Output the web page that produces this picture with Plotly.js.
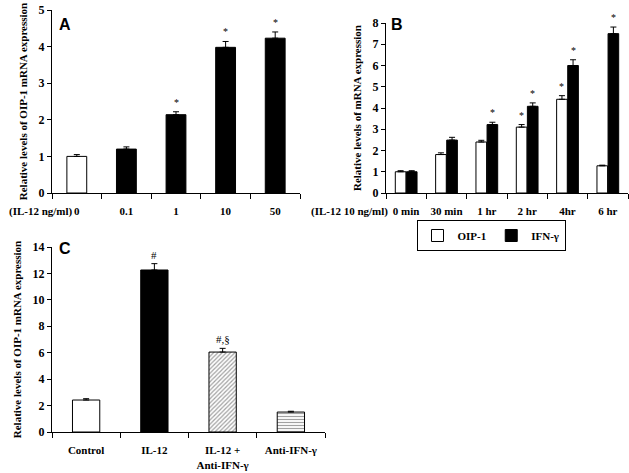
<!DOCTYPE html>
<html>
<head>
<meta charset="utf-8">
<script src="https://cdn.plot.ly/plotly-3.0.1.min.js"></script>
<style>html,body{margin:0;padding:0;background:#fff;}#chart{width:629px;height:473px;}</style>
</head>
<body>
<div id="chart"></div>
<script>
// Panel A data
const aCats = ['0', '0.1', '1', '10', '50'];
const aVals = [1.0, 1.2, 2.14, 3.98, 4.23];
const aErr = [0.05, 0.06, 0.08, 0.16, 0.17];
const aSig = [false, false, true, true, true];

// Panel B data
const bCats = ['0 min', '30 min', '1 hr', '2 hr', '4hr', '6 hr'];
const bOip = [1.0, 1.81, 2.4, 3.1, 4.41, 1.28];
const bOipErr = [0.05, 0.08, 0.08, 0.12, 0.17, 0.03];
const bIfn = [1.0, 2.49, 3.22, 4.08, 6.0, 7.5];
const bIfnErr = [0.05, 0.13, 0.11, 0.16, 0.27, 0.31];
const bOipSig = [false, false, false, true, true, false];
const bIfnSig = [false, false, true, true, true, true];

// Panel C data
const cCats = ['Control', 'IL-12', 'IL-12 +<br>Anti-IFN-γ', 'Anti-IFN-γ'];
const cVals = [2.42, 12.26, 6.05, 1.51];
const cErr = [0.1, 0.48, 0.28, 0.06];
const cMarks = ['', '#', '#,§', ''];

const W = 629, H = 473;
const px = x => x / W;
const py = y => 1 - y / H;
const serif = '"Liberation Serif", "DejaVu Serif", serif';
const sans = '"Liberation Sans", Arial, sans-serif';

function errUp(arr) {
  return {type: 'data', array: arr, arrayminus: arr.map(() => 0), symmetric: false,
          color: 'black', thickness: 1, width: 3};
}

const traces = [
  {type: 'bar', x: aCats, y: aVals, xaxis: 'x', yaxis: 'y', width: 0.4, showlegend: false,
   marker: {color: aCats.map((c, i) => i === 0 ? 'white' : 'black'), line: {color: 'black', width: 1}},
   error_y: errUp(aErr)},
  {type: 'bar', name: 'OIP-1', x: bCats, y: bOip, xaxis: 'x2', yaxis: 'y2',
   marker: {color: 'white', line: {color: 'black', width: 1}}, error_y: errUp(bOipErr)},
  {type: 'bar', name: 'IFN-γ', x: bCats, y: bIfn, xaxis: 'x2', yaxis: 'y2',
   marker: {color: 'black', line: {color: 'black', width: 1}}, error_y: errUp(bIfnErr)},
  {type: 'bar', x: cCats, y: cVals, xaxis: 'x3', yaxis: 'y3', width: 0.4, showlegend: false,
   marker: {color: cCats.map((c, i) => i === 1 ? 'black' : 'white'),
            line: {color: 'black', width: 1},
            pattern: {shape: cCats.map((c, i) => i === 2 ? '/' : (i === 3 ? '-' : '')),
                      fgcolor: '#666666', size: 3, solidity: 0.4, fillmode: 'overlay'}},
   error_y: errUp(cErr)}
];

const tickFont = {family: serif, size: 11, color: 'black', weight: 'bold'};
function yax(range, dtick, domain, anchor, title) {
  return {range: range, dtick: dtick, domain: domain, anchor: anchor, showline: true, linecolor: 'black',
          linewidth: 1, ticks: 'outside', ticklen: 4, tickcolor: 'black', showgrid: false, zeroline: false,
          tickfont: {family: serif, size: 12, color: 'black', weight: 'bold'}, fixedrange: true,
          title: {text: title, font: {family: serif, size: 11, color: 'black', weight: 'bold'}, standoff: 8}};
}
function xax(domain, anchor, range) {
  return {type: 'category', domain: domain, anchor: anchor, range: range, showline: true, linecolor: 'black',
          linewidth: 1, ticks: 'outside', ticklen: 5, tickcolor: 'black', tickson: 'boundaries', tickangle: 0,
          showgrid: false, zeroline: false, tickfont: tickFont, ticklabelstandoff: 8, fixedrange: true};
}

const annotations = [];
const starFont = {family: serif, size: 10, color: 'black'};
aVals.forEach((v, i) => { if (aSig[i]) annotations.push({xref: 'x', yref: 'y', x: i, y: v + aErr[i],
  text: '*', showarrow: false, yanchor: 'bottom', yshift: 2, font: starFont}); });
bOip.forEach((v, i) => { if (bOipSig[i]) annotations.push({xref: 'x2', yref: 'y2', x: i - 0.1375, y: v + bOipErr[i],
  text: '*', showarrow: false, yanchor: 'bottom', yshift: 2, font: starFont}); });
bIfn.forEach((v, i) => { if (bIfnSig[i]) annotations.push({xref: 'x2', yref: 'y2', x: i + 0.1375, y: v + bIfnErr[i],
  text: '*', showarrow: false, yanchor: 'bottom', yshift: 2, font: starFont}); });
cVals.forEach((v, i) => { if (cMarks[i]) annotations.push({xref: 'x3', yref: 'y3', x: i, y: v + cErr[i],
  text: cMarks[i], showarrow: false, yanchor: 'bottom', yshift: 1, font: {family: serif, size: 11, color: 'black'}}); });

annotations.push(
  {xref: 'paper', yref: 'paper', x: px(7), xanchor: 'left', y: py(212), text: '(IL-12 ng/ml)', showarrow: false,
   font: tickFont},
  {xref: 'paper', yref: 'paper', x: px(309), xanchor: 'left', y: py(212), text: '(IL-12 10 ng/ml)', showarrow: false,
   font: tickFont},
  {xref: 'paper', yref: 'paper', x: px(57), y: py(14), text: 'A', showarrow: false, xanchor: 'left',
   font: {family: sans, size: 16, color: 'black', weight: 'bold'}},
  {xref: 'paper', yref: 'paper', x: px(389), y: py(14), text: 'B', showarrow: false, xanchor: 'left',
   font: {family: sans, size: 16, color: 'black', weight: 'bold'}},
  {xref: 'paper', yref: 'paper', x: px(57), y: py(248), text: 'C', showarrow: false, xanchor: 'left',
   font: {family: sans, size: 16, color: 'black', weight: 'bold'}}
);

const layout = {
  width: W, height: H, margin: {l: 0, r: 0, t: 0, b: 0}, paper_bgcolor: 'white', plot_bgcolor: 'white',
  font: {family: serif, color: 'black'},
  barmode: 'group', bargap: 0.45, bargroupgap: 0.04,
  xaxis: xax([px(52), px(300)], 'y', [-0.5, 4.5]),
  yaxis: yax([0, 5], 1, [py(193), py(10)], 'x', 'Relative levels of OIP-1 mRNA expression'),
  xaxis2: xax([px(386), px(628)], 'y2', [-0.5, 5.5]),
  yaxis2: yax([0, 8], 1, [py(193), py(23)], 'x2', 'Relative levels of mRNA expression'),
  xaxis3: xax([px(52), px(325)], 'y3', [-0.5, 3.5]),
  yaxis3: yax([0, 14], 2, [py(432), py(247)], 'x3', 'Relative levels of OIP-1 mRNA expression'),
  showlegend: true,
  legend: {orientation: 'h', x: px(491), xanchor: 'center', y: py(220), yanchor: 'top',
           bordercolor: 'black', borderwidth: 1, font: {family: serif, size: 11, color: 'black', weight: 'bold'},
           itemwidth: 30, tracegroupgap: 0},
  annotations: annotations
};

Plotly.newPlot('chart', traces, layout, {displayModeBar: false, staticPlot: true});
</script>
</body>
</html>
